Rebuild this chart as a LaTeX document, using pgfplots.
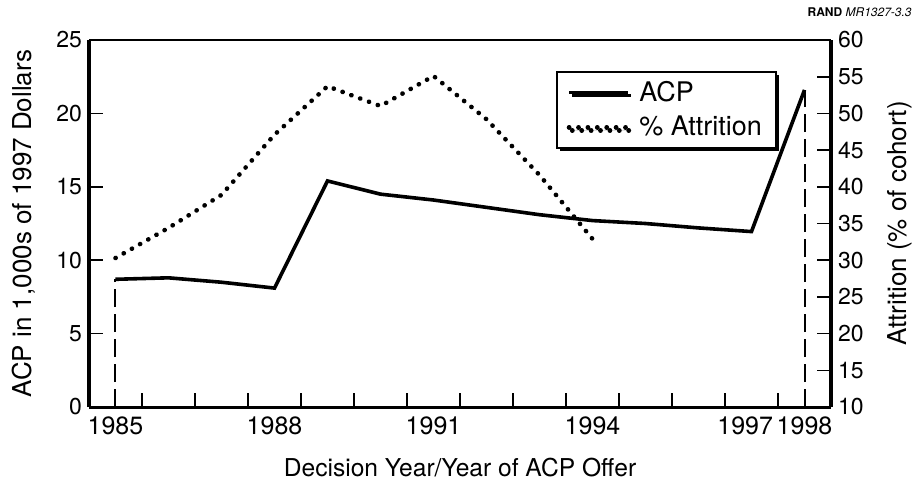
\documentclass[border=0pt]{standalone}
\usepackage{fontspec}
\setmainfont{TeX Gyre Heros}
\usepackage{pgfplots}
\usepackage{pgfplotstable}
\pgfplotsset{compat=1.18}
\usetikzlibrary{shadows}

\pgfplotstableread{
year acp
1985 8.7
1986 8.8
1987 8.5
1988 8.1
1989 15.4
1990 14.5
1991 14.1
1992 13.6
1993 13.1
1994 12.7
1995 12.5
1996 12.2
1997 11.95
1998 21.6
}\acpdata

\pgfplotstableread{
year att
1985 30.3
1986 34.4
1987 38.9
1988 47.1
1989 53.7
1990 51.0
1991 55.1
1992 49.2
1993 41.6
1994 32.9
}\attdata

\begin{document}
\begin{tikzpicture}
\useasboundingbox (-44.5pt,-38.5pt) rectangle (412.5pt,203.5pt);
\pgfplotsset{
  every axis/.append style={
    scale only axis, width=371pt, height=183.5pt,
    xmin=1984.5, xmax=1998.5,
    tick align=inside, major tick length=7pt,
    tick style={black, line width=0.8pt},
    /pgf/number format/assume math mode=true,
    yticklabel style={font=\fontsize{11.5}{13}\selectfont},
    xticklabel style={font=\fontsize{12.5}{14}\selectfont, yshift=-1.5pt},
    label style={font=\fontsize{13}{15}\selectfont},
  }
}
\begin{axis}[
  axis x line*=bottom, axis y line*=left,
  x axis line style={line width=1.5pt},
  y axis line style={line width=1.7pt},
  ymin=0, ymax=25, ytick={0,5,...,25},
  xtick={1985.5,1986.5,1987.5,1988.5,1989.5,1990.5,1991.5,1992.5,1993.5,1994.5,1995.5,1996.5,1997.5},
  xticklabels={,,,,,,,,,,,,},
  extra x ticks={1985,1988,1991,1994,1996.88,1998},
  extra x tick labels={1985,1988,1991,1994,1997,1998},
  extra x tick style={tick style={draw=none}},
  xlabel={Decision Year/Year of ACP Offer},
  xlabel style={font=\fontsize{12.3}{14}\selectfont, at={(axis description cs:0.5,-0.165)}, anchor=center},
  ylabel={ACP in 1,000s of 1997 Dollars},
  ylabel style={at={(axis description cs:-0.0876,0.5)}, anchor=center},
]
\addplot[black, line width=1pt, dash pattern=on 9pt off 3.5pt, forget plot] coordinates {(1985,0) (1985,8.7)};
\addplot[black, line width=1pt, dash pattern=on 9pt off 3.5pt, forget plot] coordinates {(1998,0) (1998,21.6)};
\addplot[black, line width=1.8pt, mark=none] table[x=year,y=acp]{\acpdata};
\end{axis}
\begin{axis}[
  axis x line*=top, axis y line*=right,
  x axis line style={line width=0.9pt},
  y axis line style={line width=1.6pt},
  xtick=\empty,
  ymin=10, ymax=60, ytick={10,15,...,60},
  ylabel={Attrition (\% of cohort)},
  ylabel style={at={(axis description cs:1.093,0.5)}, anchor=center},
  legend cell align=left,
  legend image code/.code={\draw[#1] (0pt,0pt) -- (29.5pt,0pt);},
  legend style={at={(axis description cs:0.629,0.916)}, anchor=north west,
    draw=black, line width=1pt, fill=white,
    inner xsep=5pt, inner ysep=2.5pt, row sep=2pt, column sep=2.5pt,
    font=\fontsize{13.5}{15}\selectfont,
    drop shadow={shadow xshift=1.6pt, shadow yshift=-1.6pt, fill=black, opacity=1}},
]
\addlegendimage{black, line width=1.8pt}
\addlegendentry{ACP}
\addplot[black, line width=2.3pt, line cap=round, dash pattern=on 0.1pt off 4.6pt, mark=none] table[x=year,y=att]{\attdata};
\addlegendentry{\% Attrition}
\end{axis}
\node[anchor=north east, inner sep=0pt, font=\fontsize{6}{7}\selectfont] at (411.5pt,200pt) {\textbf{RAND} \textit{MR1327-3.3}};
\end{tikzpicture}
\end{document}
